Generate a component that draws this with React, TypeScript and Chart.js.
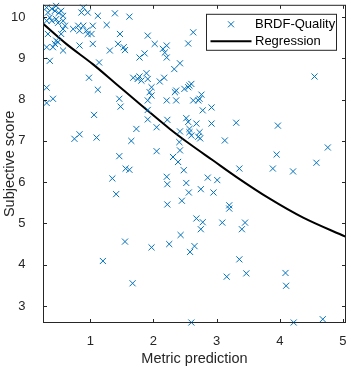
import React, { useEffect, useRef } from "react";
import { Chart, registerables } from "chart.js";

Chart.register(...registerables);

const seriesNames = ["BRDF-Quality", "Regression"];
const xLabel = "Metric prediction";
const yLabel = "Subjective score";
const xTicks = [1, 2, 3, 4, 5];
const yTicks = [3, 4, 5, 6, 7, 8, 9, 10];
const xRange = [0.26, 5.04];
const yRange = [2.6, 10.285];

const pointX = [
  0.31, 0.46, 0.33, 0.44, 0.54, 0.57, 0.36, 0.46, 0.31, 0.39, 0.57, 0.49, 0.6, 0.57, 0.33, 0.54, 0.46, 0.44, 0.31, 0.41, 0.57, 0.36, 0.39, 0.5, 0.49,
  0.89, 0.86, 0.96, 1.12, 1.39, 1.62, 1.26, 0.81, 0.89, 0.73, 0.83, 1.04, 0.96, 1.02, 0.94, 1.47, 1.91, 2.63, 0.83, 1.04, 1.31, 1.44, 1.53, 1.55,
  2.02, 2.21, 2.15, 2.18, 2.55, 1.86, 1.78, 2.21, 1.14, 2.42, 2.33, 1.89, 1.68, 1.75, 1.78, 1.81, 1.91, 2.17, 2.1, 0.98, 1.97, 2.36, 2.34, 2.49,
  2.55, 2.57, 2.6, 1.12, 0.31, 1.94, 2.21, 2.36, 2.63, 2.71, 2.73, 2.76, 2.78, 2.92, 1.91, 1.97, 0.41, 0.31, 1.46, 1.48, 1.06, 1.91, 1.91, 2.22,
  1.73, 2.05, 2.52, 2.55, 2.68, 2.92, 3.31, 3.97, 2.42, 2.57, 2.57, 2.6, 2.73, 2.71, 2.74, 3.13, 2.41, 0.75, 0.83, 1.1, 1.65, 2.05, 2.42,
  2.31, 2.39, 1.46, 1.56, 1.62, 2.48, 3.36, 3.89, 3.95, 4.21, 4.58, 4.76, 4.55, 1.35, 1.41, 2.21, 2.22, 2.52, 2.86, 3.01, 2.56, 2.75, 2.95,
  2.22, 2.45, 3.2, 3.2, 2.68, 2.78, 2.75, 3.09, 3.45, 3.4, 2.43, 1.97, 2.25, 2.65, 2.58, 1.55, 1.2, 1.67, 3.36, 3.47, 3.16, 4.09, 4.1, 2.6,
  4.22, 4.68,
];
const pointY = [
  10.23, 10.27, 10.11, 10.15, 10.15, 10.03, 9.99, 9.95, 9.91, 9.91, 9.91, 9.86, 9.79, 9.71, 9.59, 9.59, 9.43, 9.35, 9.27, 9.27, 9.19, 8.94, 10.2, 10.1, 9.39,
  10.23, 10.11, 10.11, 10.03, 10.09, 10.01, 9.81, 9.79, 9.79, 9.71, 9.67, 9.79, 9.59, 9.59, 9.67, 9.59, 9.55, 9.63, 9.31, 9.35, 9.19, 9.35, 9.27, 9.2,
  9.35, 9.31, 9.23, 9.14, 9.36, 9.12, 9.02, 9.02, 8.9, 8.88, 8.74, 8.64, 8.53, 8.5, 8.56, 8.46, 8.5, 8.53, 8.44, 8.53, 8.3, 8.22, 8.18, 8.26,
  8.3, 8.34, 8.38, 8.24, 8.29, 8.18, 7.98, 7.98, 7.98, 7.98, 8.02, 8.12, 7.74, 7.81, 7.98, 8.1, 8.02, 7.92, 8.02, 7.83, 7.63, 7.75, 7.52, 7.51,
  7.29, 7.33, 7.55, 7.46, 7.42, 7.42, 7.44, 7.37, 7.23, 7.29, 7.21, 7.13, 7.21, 7.1, 7.06, 7.01, 6.97, 7.05, 7.16, 7.08, 7.0, 6.75, 6.77,
  6.61, 6.49, 6.63, 6.33, 6.3, 6.29, 6.33, 6.33, 6.67, 6.26, 6.47, 6.84, 8.56, 6.09, 5.71, 6.13, 5.95, 5.98, 6.11, 6.05, 5.75, 5.83, 5.75,
  5.46, 5.55, 5.44, 5.36, 5.12, 5.03, 4.86, 5.02, 5.02, 4.86, 4.72, 4.42, 4.5, 4.45, 4.31, 4.56, 4.09, 3.55, 4.13, 3.79, 3.71, 3.8, 3.49, 2.6,
  2.6, 2.68,
];

const curveX = [0.26, 0.62, 1.04, 1.41, 1.78, 2.26, 2.57, 2.94, 3.31, 3.84, 4.37, 5.04];
const curveY = [9.83, 9.35, 8.86, 8.38, 7.9, 7.29, 6.93, 6.53, 6.13, 5.6, 5.14, 4.68];

const BLUE = "#0072BD";
const AXIS = "#262626";
const FONT = "'Liberation Sans', Arial, Helvetica, sans-serif";

const boxPlugin = {
  id: "matlabBox",
  afterDatasetsDraw(chart: any) {
    const { ctx, chartArea: a, scales } = chart;
    ctx.save();
    ctx.strokeStyle = AXIS;
    ctx.lineWidth = 1;
    ctx.strokeRect(a.left, a.top, a.right - a.left, a.bottom - a.top);
    const L = 3.5;
    ctx.beginPath();
    for (const v of xTicks) {
      const x = Math.round(scales.x.getPixelForValue(v)) + 0.5;
      ctx.moveTo(x, a.bottom);
      ctx.lineTo(x, a.bottom - L);
      ctx.moveTo(x, a.top);
      ctx.lineTo(x, a.top + L);
    }
    for (const v of yTicks) {
      const y = Math.round(scales.y.getPixelForValue(v)) + 0.5;
      ctx.moveTo(a.left, y);
      ctx.lineTo(a.left + L, y);
      ctx.moveTo(a.right, y);
      ctx.lineTo(a.right - L, y);
    }
    ctx.stroke();

    // legend
    const bx = a.right - 139;
    const by = a.top + 9;
    const bw = 130;
    const bh = 36;
    ctx.fillStyle = "#ffffff";
    ctx.fillRect(bx, by, bw, bh);
    ctx.strokeStyle = AXIS;
    ctx.lineWidth = 1;
    ctx.strokeRect(bx, by, bw, bh);
    const r1 = by + 10;
    const r2 = by + 27;
    const mx = bx + 24.5;
    const s = 3;
    ctx.strokeStyle = BLUE;
    ctx.beginPath();
    ctx.moveTo(mx - s, r1 - s);
    ctx.lineTo(mx + s, r1 + s);
    ctx.moveTo(mx - s, r1 + s);
    ctx.lineTo(mx + s, r1 - s);
    ctx.stroke();
    ctx.strokeStyle = "#000000";
    ctx.lineWidth = 2;
    ctx.beginPath();
    ctx.moveTo(bx + 4, r2);
    ctx.lineTo(bx + 45, r2);
    ctx.stroke();
    ctx.fillStyle = "#000000";
    ctx.font = `13px ${FONT}`;
    ctx.textBaseline = "middle";
    ctx.textAlign = "left";
    ctx.fillText(seriesNames[0], bx + 48.5, r1);
    ctx.fillText(seriesNames[1], bx + 48.5, r2);
    ctx.restore();
  },
};

export default function App() {
  const ref = useRef<HTMLCanvasElement | null>(null);
  useEffect(() => {
    if (!ref.current) return;
    const chart = new Chart(ref.current, {
      type: "scatter",
      data: {
        datasets: [
          {
            label: seriesNames[0],
            data: pointX.map((x, i) => ({ x, y: pointY[i] })),
            pointStyle: "crossRot",
            pointRadius: 4.3,
            pointBorderWidth: 1,
            borderColor: BLUE,
            backgroundColor: BLUE,
            showLine: false,
            clip: false as any,
          },
          {
            label: seriesNames[1],
            type: "line" as any,
            data: curveX.map((x, i) => ({ x, y: curveY[i] })),
            borderColor: "#000000",
            borderWidth: 2,
            pointRadius: 0,
            fill: false,
            cubicInterpolationMode: "monotone",
          } as any,
        ],
      },
      options: {
        animation: false,
        responsive: false,
        devicePixelRatio: 1,
        layout: { padding: { left: 0, right: 5.5, top: 4.5, bottom: 0 } },
        plugins: {
          legend: { display: false },
          tooltip: { enabled: false },
        },
        scales: {
          x: {
            type: "linear",
            min: xRange[0],
            max: xRange[1],
            grid: { display: false },
            border: { display: false },
            ticks: {
              color: AXIS,
              font: { family: FONT, size: 13 },
              padding: 3,
              maxRotation: 0,
              callback: (v: any) => String(v),
            },
            afterBuildTicks: (scale: any) => {
              scale.ticks = xTicks.map((v) => ({ value: v }));
            },
            afterFit: (scale: any) => {
              scale.height = 47.5;
              scale.paddingLeft = 0;
              scale.paddingRight = 0;
              scale.paddingTop = 0;
              scale.paddingBottom = 0;
            },
            title: {
              display: true,
              text: xLabel,
              color: AXIS,
              font: { family: FONT, size: 14.5 },
              padding: { top: 0, bottom: 2 },
            },
          },
          y: {
            type: "linear",
            min: yRange[0],
            max: yRange[1],
            grid: { display: false },
            border: { display: false },
            ticks: {
              color: AXIS,
              font: { family: FONT, size: 13 },
              padding: 10,
              callback: (v: any) => String(v),
            },
            afterBuildTicks: (scale: any) => {
              scale.ticks = yTicks.map((v) => ({ value: v }));
            },
            afterFit: (scale: any) => {
              scale.width = 43.5;
              scale.paddingLeft = 0;
              scale.paddingRight = 0;
              scale.paddingTop = 0;
              scale.paddingBottom = 0;
            },
            title: {
              display: true,
              text: yLabel,
              color: AXIS,
              font: { family: FONT, size: 14.5 },
              padding: { top: 1, bottom: 0 },
            },
          },
        },
      },
      plugins: [boxPlugin],
    });
    return () => chart.destroy();
  }, []);
  return (
    <div style={{ position: "absolute", left: 0, top: 0, width: 351, height: 370, background: "#fff" }}>
      <canvas ref={ref} width={351} height={370} style={{ display: "block" }} />
    </div>
  );
}
